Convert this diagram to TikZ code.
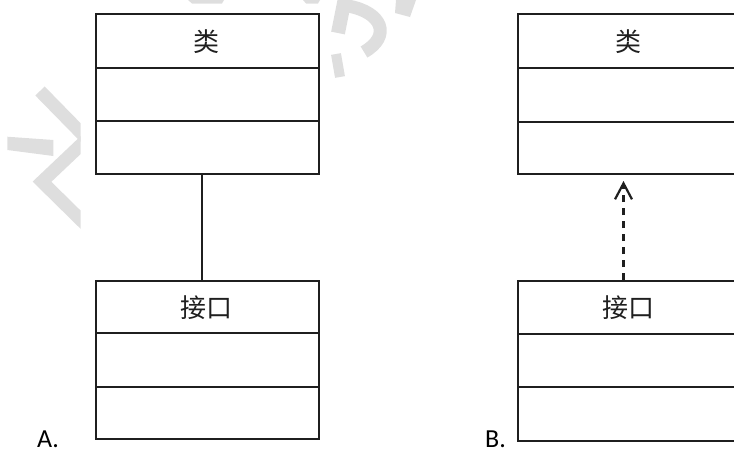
\documentclass[tikz,border=0pt]{standalone}
\usepackage{fontspec}
\setmainfont{Carlito}
\newfontfamily\cjk{Noto Sans CJK SC}
\usetikzlibrary{arrows.meta}
\definecolor{wm}{gray}{0.87}
\definecolor{ink}{gray}{0.12}
\begin{document}
\begin{tikzpicture}[x=1pt,y=-1pt,
  umlbox/.style={draw=ink, line width=2pt, inner sep=0pt, minimum width=223pt, minimum height=160pt},
  divider/.style={draw=ink, line width=2pt},
  title/.style={inner sep=0pt, font=\cjk\fontsize{26}{26}\selectfont, text=ink},
  lbl/.style={inner sep=0pt, font=\fontsize{26}{26}\selectfont, anchor=base west, text depth=0pt},
  link/.style={draw=ink, line width=2pt},
  realize/.style={draw=ink, line width=2.2pt, dash pattern=on 7pt off 6pt,
    -{Straight Barb[length=16pt,width=17pt,line width=2.2pt]}},
  wmstroke/.style={draw=wm, line width=13pt}
]
\useasboundingbox (0,0) rectangle (734,450);
% watermark fragments
\begin{scope}
  \clip (0,0) rectangle (80.5,450);
  \fill[wm] (7.3,136.7) -- (53.3,140) -- (53.3,156) -- (7.3,150) -- cycle;
  \draw[wmstroke] (40,91) -- (86,138);
  \draw[wmstroke, miter limit=10] (86,140) -- (42,181.7) -- (86,225);
\end{scope}
\fill[wm] (188,0) -- (224,0) -- (222,3.5) -- (192,3.5) -- cycle;
\fill[wm] (303,0) -- (320,0) -- (318,3.5) -- (306,3.5) -- cycle;
\draw[wmstroke, line width=14pt] (345,-2) -- (338,33);
\draw[wmstroke, line width=13pt] (348,6) .. controls (382,12) and (392,36) .. (364,52);
\draw[wmstroke, line width=10pt] (336,54) -- (340,77);
\fill[wm] (396,0) -- (416,0) -- (410,17) -- (395,13) -- cycle;
% boxes
\node[umlbox] (c1) at (207.5,94) {};
\node[umlbox, minimum height=157.5pt] (i1) at (207.5,359.75) {};
\node[umlbox, minimum width=222pt] (c2) at (629,94) {};
\node[umlbox, minimum width=222pt] (i2) at (629,361) {};
% dividers
\draw[divider] (c1.west |- 0,67.7) -- (c1.east |- 0,67.7);
\draw[divider] (c1.west |- 0,120.5) -- (c1.east |- 0,120.5);
\draw[divider] (i1.west |- 0,332.5) -- (i1.east |- 0,332.5);
\draw[divider] (i1.west |- 0,386.7) -- (i1.east |- 0,386.7);
\draw[divider] (c2.west |- 0,68) -- (c2.east |- 0,68);
\draw[divider] (c2.west |- 0,122) -- (c2.east |- 0,122);
\draw[divider] (i2.west |- 0,334) -- (i2.east |- 0,334);
\draw[divider] (i2.west |- 0,387) -- (i2.east |- 0,387);
% titles
\node[title] (t1) at (206.5,41.5) {类};
\node[title] (t2) at (206,307.5) {接口};
\node[title] (t3) at (628.5,41.5) {类};
\node[title] (t4) at (628,307.5) {接口};
% connectors
\coordinate (xa) at (201.7,0);
\coordinate (xb) at (623.5,0);
\draw[link] (c1.south -| xa) -- (i1.north -| xa);
\draw[realize] (i2.north -| xb) -- ([yshift=-6pt]c2.south -| xb);
% option labels
\node[lbl] (la) at (37,447) {A.};
\node[lbl] (lb) at (485,447) {B.};
\end{tikzpicture}
\end{document}
